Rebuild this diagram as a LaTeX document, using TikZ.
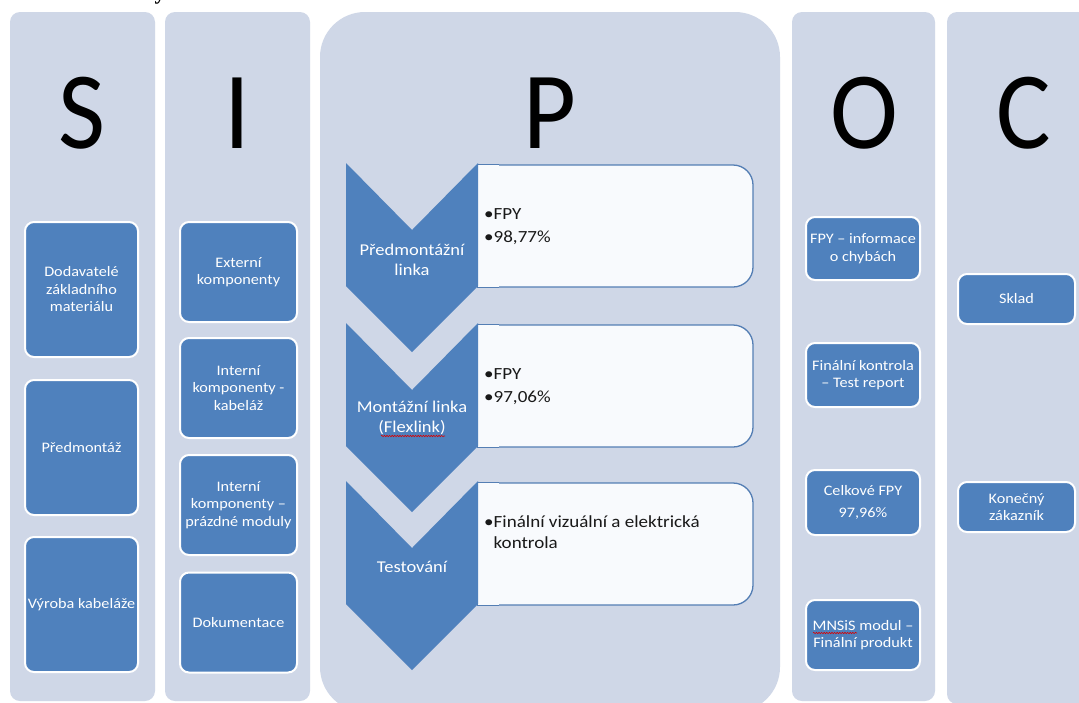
\documentclass[tikz,border=0pt]{standalone}
\usepackage{fontspec}
\setmainfont{Carlito}[FakeStretch=1.12]
\newfontfamily\letterfont{Carlito}
\newfontfamily\headserif{Liberation Serif}
\usetikzlibrary{decorations.pathmorphing}

\definecolor{panelfill}{RGB}{207,215,231}
\definecolor{boxblue}{RGB}{79,129,189}
\definecolor{edgeblue}{RGB}{84,126,180}
\definecolor{paper}{RGB}{248,250,253}
\definecolor{inktext}{RGB}{25,25,25}

\newcommand\sipocsmall{\fontsize{14.5}{17.5}\selectfont}
\newcommand\sipocstage{\fontsize{16.5}{20}\selectfont}
\newcommand\sipocbullet{\fontsize{17}{23}\selectfont}
\newcommand\headletter[1]{\scalebox{0.93}[1]{#1}}

\tikzset{
  panel/.style={fill=panelfill, rounded corners=10pt},
  letter/.style={font=\letterfont\fontsize{110}{110}\selectfont, anchor=base, inner sep=0pt, text=black},
  bluebox/.style={draw=white, line width=2pt, fill=boxblue, rounded corners=9pt,
    text=white, align=center, font=\sipocsmall, inner sep=2pt},
  chevronshape/.style={fill=boxblue},
  stagetext/.style={text=white, align=center, font=\sipocstage, inner sep=0pt},
  resultbox/.style={draw=edgeblue, line width=1.3pt, fill=paper, rounded corners=20pt},
  squareleft/.style={draw=edgeblue, line width=1.3pt, fill=paper},
  bullettext/.style={text=inktext, align=left, font=\sipocbullet, inner sep=0pt, anchor=west},
  spellwave/.style={draw=red!85!black, line width=0.6pt, decorate,
    decoration={snake, amplitude=0.7pt, segment length=2.6pt}}
}

\begin{document}
\begin{tikzpicture}[x=1pt,y=-1pt]
\useasboundingbox (0,0) rectangle (1079,702);
\clip (0,0) rectangle (1079,702);
\fill[white] (0,0) rectangle (1079,702);

% tail of the line of text above the chart
\node[anchor=base, inner sep=0pt, font=\headserif\bfseries\fontsize{22}{22}\selectfont] (tail) at (160,-1) {y};

% column panels
\path[panel] (10,12) rectangle (155,701);
\path[panel] (165,12) rectangle (310,701);
\path[panel, rounded corners=45pt] (320,12) rectangle (780,712);
\path[panel] (792,12) rectangle (935,701);
\path[panel] (947,12) rectangle (1100,704);

% column headings
\node[letter] (hS) at (82.5,148) {\headletter{S}};
\node[letter] (hI) at (237.5,148) {\headletter{I}};
\node[letter] (hP) at (549.5,148) {\headletter{P}};
\node[letter] (hO) at (864,148) {\headletter{O}};
\node[letter] (hC) at (1023.5,148) {\headletter{C}};

% Suppliers
\node[bluebox, minimum width=113pt, minimum height=135pt] (s1) at (81.5,289.5) {Dodavatelé\\základního\\materiálu};
\node[bluebox, minimum width=113pt, minimum height=135pt] (s2) at (81.5,447.5) {Předmontáž};
\node[bluebox, minimum width=113pt, minimum height=135pt] (s3) at (81.5,604.5) {Výroba kabeláže};

% Inputs
\node[bluebox, minimum width=117pt, minimum height=100pt] (i1) at (238.5,272) {Externí\\komponenty};
\node[bluebox, minimum width=117pt, minimum height=100pt] (i2) at (238.5,388) {Interní\\komponenty -\\kabeláž};
\node[bluebox, minimum width=117pt, minimum height=100pt] (i3) at (238.5,505) {Interní\\komponenty –\\prázdné moduly};
\node[bluebox, minimum width=117pt, minimum height=100pt] (i4) at (238.5,622.5) {Dokumentace};

% Process: result boxes, rounded on the right, square where they meet the chevrons
\node[resultbox, minimum width=275pt, minimum height=122pt] (r1) at (615.5,226) {};
\node[resultbox, minimum width=275pt, minimum height=122pt] (r2) at (615.5,386) {};
\node[resultbox, minimum width=275pt, minimum height=122pt] (r3) at (615.5,544) {};
\path[squareleft] (r1.north west) ++(22,0) -- (r1.north west) -- (r1.south west) -- ++(22,0);
\path[squareleft] (r2.north west) ++(22,0) -- (r2.north west) -- (r2.south west) -- ++(22,0);
\path[squareleft] (r3.north west) ++(22,0) -- (r3.north west) -- (r3.south west) -- ++(22,0);

% Process: chevrons
\path[chevronshape] (346,163) -- (412,230) -- (478,163) -- (478,286) -- (412,352) -- (346,286) -- cycle;
\path[chevronshape] (346,323) -- (412,390) -- (478,323) -- (478,446) -- (412,512) -- (346,446) -- cycle;
\path[chevronshape] (346,481) -- (412,548) -- (478,481) -- (478,604) -- (412,670) -- (346,604) -- cycle;

\node[stagetext] (p1) at (412,260) {Předmontážní\\linka};
\node[stagetext] (p2) at (412,418) {Montážní linka\\(Flexlink)};
\node[stagetext] (p3) at (412,567) {Testování};

\node[bullettext] (t1) at (484,226.5) {\textbullet FPY\\\textbullet 98,77\%};
\node[bullettext] (t2) at (484,386.5) {\textbullet FPY\\\textbullet 97,06\%};
\node[bullettext, font=\fontsize{17}{21}\selectfont] (t3) at (484,532.5) {\textbullet Finální vizuální a elektrická\\\phantom{\textbullet}kontrola};

% Outputs
\node[bluebox, minimum width=114pt, minimum height=63pt] (o1) at (863,248.5) {FPY – informace\\o chybách};
\node[bluebox, minimum width=114pt, minimum height=64pt] (o2) at (863,375) {Finální kontrola\\– Test report};
\node[bluebox, minimum width=114pt, minimum height=65pt] (o3) at (863,502.5) {Celkové FPY\\[4pt]97,96\%};
\node[bluebox, minimum width=114pt, minimum height=70pt] (o4) at (863,635) {MNSiS modul –\\Finální produkt};

% Customers
\node[bluebox, minimum width=117pt, minimum height=50pt] (c1) at (1016.5,299) {Sklad};
\node[bluebox, minimum width=117pt, minimum height=50pt] (c2) at (1016.5,507) {Konečný\\zákazník};

% spell-check marks
\draw[spellwave] (381,436) -- (445,436);
\draw[spellwave] (813,633) -- (857,633);
\end{tikzpicture}
\end{document}
